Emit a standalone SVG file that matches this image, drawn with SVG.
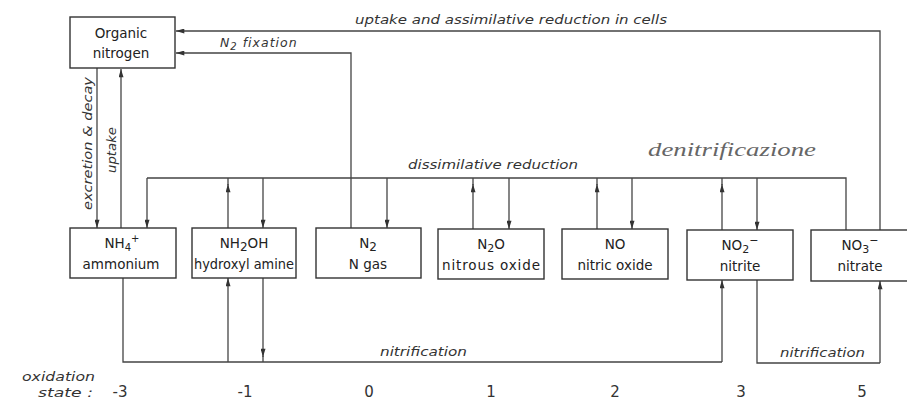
<svg xmlns="http://www.w3.org/2000/svg" width="907" height="400" viewBox="0 0 907 400">
<defs>
<marker id="ah" viewBox="0 0 10 6" refX="10" refY="3" markerWidth="9" markerHeight="5" markerUnits="userSpaceOnUse" orient="auto">
<path d="M0,0 L10,3 L0,6 Z" fill="#333"/>
</marker>
<style>
.box{fill:#fff;stroke:#333;stroke-width:1.4}
.ln{fill:none;stroke:#444;stroke-width:1.3}
.ar{fill:none;stroke:#444;stroke-width:1.3;marker-end:url(#ah)}
.t{font-family:"DejaVu Sans",Verdana,sans-serif;font-size:13.5px;fill:#222;text-anchor:middle}
.l{font-family:"DejaVu Sans",Verdana,sans-serif;font-size:12.5px;font-style:italic;fill:#333}
.n{font-family:"DejaVu Sans",Verdana,sans-serif;font-size:15px;fill:#333;text-anchor:middle}
.h{font-family:"Liberation Serif",serif;font-size:19px;font-style:italic;fill:#666}
</style>
</defs>
<rect width="907" height="400" fill="#fff"/>
<g id="connectors">
<path class="ar" d="M880,230 V31 H176"/>
<path class="ar" d="M351,228 V53 H176"/>
<path class="ar" d="M97,68 V228"/>
<path class="ar" d="M121,228 V69"/>
<path class="ln" d="M846,230 V178 H147"/>
<path class="ar" d="M147,178 V228"/>
<path class="ar" d="M228,228 V184"/><path class="ln" d="M228,185 V178"/>
<path class="ar" d="M263,178 V228"/>
<path class="ar" d="M387,178 V228"/>
<path class="ar" d="M473,229 V184"/><path class="ln" d="M473,185 V178"/>
<path class="ar" d="M509,178 V229"/>
<path class="ar" d="M597,229 V184"/><path class="ln" d="M597,185 V178"/>
<path class="ar" d="M632,178 V229"/>
<path class="ar" d="M722,230 V184"/><path class="ln" d="M722,185 V178"/>
<path class="ar" d="M757,178 V230"/>
<path class="ln" d="M123,278 V362 H722"/>
<path class="ar" d="M722,362 V280"/>
<path class="ar" d="M228,362 V278"/>
<path class="ar" d="M263,278 V357"/><path class="ln" d="M263,356 V362"/>
<path class="ln" d="M757,280 V363 H880"/>
<path class="ar" d="M880,363 V281"/>
</g>
<g id="organic">
<rect class="box" x="70" y="17" width="105" height="51"/>
<text class="t" x="121" y="38">Organic</text>
<text class="t" x="121" y="58">nitrogen</text>
</g>
<g id="nh4">
<rect class="box" x="70" y="228" width="106" height="50"/>
<text class="t" x="122" y="248">NH<tspan font-size="10" dy="3">4</tspan><tspan font-size="10" dy="-9">+</tspan></text>
<text class="t" x="121" y="269">ammonium</text>
</g>
<g id="nh2oh">
<rect class="box" x="192" y="228" width="104" height="50"/>
<text class="t" x="244" y="248">NH<tspan font-size="12" dy="3">2</tspan><tspan dy="-3">OH</tspan></text>
<text class="t" x="244" y="269" textLength="100" lengthAdjust="spacingAndGlyphs">hydroxyl amine</text>
</g>
<g id="n2">
<rect class="box" x="316" y="228" width="105" height="50"/>
<text class="t" x="368" y="248">N<tspan font-size="12" dy="3">2</tspan></text>
<text class="t" x="368" y="269">N  gas</text>
</g>
<g id="n2o">
<rect class="box" x="438" y="229" width="106" height="50"/>
<text class="t" x="491" y="249">N<tspan font-size="11" dy="3">2</tspan><tspan dy="-3">O</tspan></text>
<text class="t" x="491" y="270" textLength="98" lengthAdjust="spacing">nitrous oxide</text>
</g>
<g id="no">
<rect class="box" x="562" y="229" width="106" height="50"/>
<text class="t" x="615" y="249">NO</text>
<text class="t" x="615" y="270">nitric oxide</text>
</g>
<g id="no2">
<rect class="box" x="687" y="230" width="106" height="50"/>
<text class="t" x="740" y="250">NO<tspan font-size="11" dy="3">2</tspan><tspan font-size="11" dy="-9">−</tspan></text>
<text class="t" x="740" y="271">nitrite</text>
</g>
<g id="no3">
<rect class="box" x="811" y="230" width="100" height="51"/>
<text class="t" x="860" y="250">NO<tspan font-size="11" dy="3">3</tspan><tspan font-size="11" dy="-9">−</tspan></text>
<text class="t" x="860" y="271">nitrate</text>
</g>
<g id="labels">
<text class="l" x="355" y="24" textLength="312" lengthAdjust="spacingAndGlyphs">uptake and assimilative reduction in cells</text>
<text class="l" x="220" y="47" letter-spacing="1">N<tspan font-size="10" dy="3">2</tspan><tspan dy="-3"> fixation</tspan></text>
<text class="l" x="408" y="169" textLength="170" lengthAdjust="spacingAndGlyphs">dissimilative reduction</text>
<text class="h" x="648" y="156" textLength="168" lengthAdjust="spacingAndGlyphs">denitrificazione</text>
<text class="l" transform="translate(92,210) rotate(-90)" textLength="133" lengthAdjust="spacingAndGlyphs">excretion &amp; decay</text>
<text class="l" transform="translate(116,173) rotate(-90)" textLength="46" lengthAdjust="spacingAndGlyphs">uptake</text>
<text class="l" x="380" y="356" textLength="87" lengthAdjust="spacingAndGlyphs">nitrification</text>
<text class="l" x="780" y="357" textLength="85" lengthAdjust="spacingAndGlyphs">nitrification</text>
<text class="l" x="22" y="381" font-size="15" textLength="73" lengthAdjust="spacingAndGlyphs">oxidation</text>
<text class="l" x="38" y="397" font-size="15" textLength="55" lengthAdjust="spacingAndGlyphs">state :</text>
<text class="n" x="120" y="397">-3</text>
<text class="n" x="245" y="397">-1</text>
<text class="n" x="369" y="397">0</text>
<text class="n" x="491" y="397">1</text>
<text class="n" x="615" y="397">2</text>
<text class="n" x="741" y="397">3</text>
<text class="n" x="862" y="397">5</text>
</g>
</svg>
